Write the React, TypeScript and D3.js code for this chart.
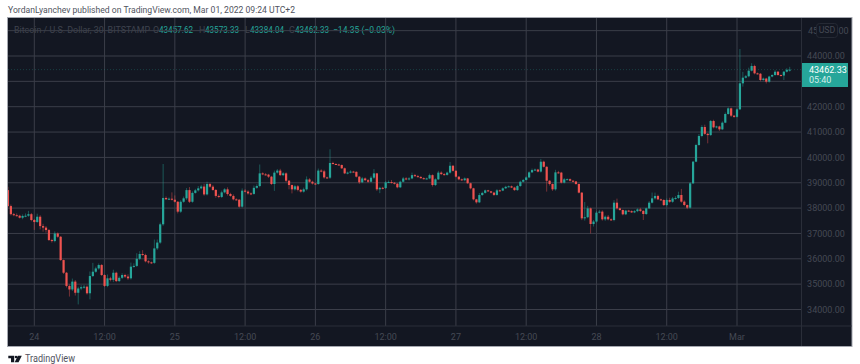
import React from "react";
import * as d3 from "d3";

const firstOpen = 38710;
const closes = [
  38080,37760,37720,37700,37620,37690,37700,37760,37530,37450,
  37660,37290,37230,37135,36740,36700,37000,36870,35950,35450,
  34930,34790,35100,34660,34830,34880,34900,34640,35320,35490,
  35620,35755,35360,34930,35230,35170,35450,35120,35250,35360,
  35300,35230,35690,35720,36000,36190,36150,35900,35860,35840,
  36410,36640,37360,38400,38350,38370,38330,38250,37860,38250,
  38385,38710,38250,38600,38700,38780,38850,38540,38950,38845,
  38715,38480,38440,38620,38740,38555,38480,38345,38330,38056,
  38688,38650,38580,38560,38800,38870,39370,39330,39320,39240,
  38950,39400,39480,39300,39370,39080,38910,38740,38860,38720,
  38650,38740,39130,39040,38970,38950,39480,39450,39210,39200,
  39780,39740,39720,39700,39570,39370,39400,39440,39430,39240,
  39016,39170,39100,39040,39200,39370,38740,38800,38790,39016,
  39030,39000,38960,38820,39040,39170,39130,39170,39300,39260,
  39230,39180,39150,39170,39300,38910,39135,39400,39340,39310,
  39400,39670,39470,39240,39135,39100,39170,38980,38780,38345,
  38227,38515,38600,38700,38660,38610,38520,38700,38690,38780,
  38840,38860,38810,38710,38870,39040,39110,39210,39410,39500,
  39520,39440,39830,39630,39080,38950,38740,39410,39400,39003,
  39135,39140,39080,39050,38950,38610,37596,37640,37990,37373,
  37470,37820,37860,37557,37660,37557,37530,38214,37990,37925,
  37754,37900,37880,37830,37880,37950,37890,37767,37990,38214,
  38385,38480,38345,38320,38120,38320,38250,38380,38400,38517,
  38254,38122,38017,38977,39831,40489,40844,41200,40930,40880,
  41435,41186,41220,41107,41370,41712,41935,41646,41600,41896,
  42922,43145,43200,43420,43605,43316,43300,43053,43110,42987,
  43190,43250,43380,43250,43230,43380,43457.62,43462.33,
];
const wickUp = [
  130,60,50,70,40,60,90,130,50,40,
  120,60,90,60,40,50,80,40,30,20,
  30,60,120,60,70,80,70,50,180,350,
  70,60,40,30,150,60,120,40,60,70,
  50,90,160,100,220,110,150,50,40,30,
  350,120,70,1340,60,50,250,170,30,60,
  70,80,120,60,60,90,70,110,90,40,
  60,40,60,70,50,80,50,60,40,30,
  90,60,50,40,90,70,350,40,50,30,
  30,80,60,70,50,40,30,20,60,50,
  30,70,120,50,40,20,80,50,60,30,
  540,50,30,30,20,30,40,50,30,20,
  20,60,40,50,70,170,20,40,40,50,
  60,80,30,30,40,60,50,50,100,50,
  50,30,30,30,60,30,40,70,50,40,
  40,150,30,30,20,30,40,20,20,20,
  20,80,50,30,20,20,30,50,30,40,
  40,30,30,30,50,40,40,40,40,60,
  40,30,110,40,20,20,20,100,60,30,
  50,30,30,20,20,20,20,600,100,30,
  60,60,70,50,50,70,40,100,160,30,
  20,30,30,30,40,40,60,30,30,60,
  230,130,50,30,30,60,90,60,70,130,
  240,50,20,50,30,50,80,70,90,30,
  40,50,30,30,50,60,40,30,20,40,
  1354,230,50,120,110,50,30,30,40,30,
  30,30,60,30,20,30,60,111,
];
const wickDown = [
  40,50,40,30,30,60,50,40,50,310,
  30,130,160,100,40,60,50,40,30,50,
  60,280,60,110,460,70,60,50,240,40,
  40,50,40,40,50,60,90,40,40,50,
  60,60,50,40,40,50,30,40,50,40,
  40,60,50,60,30,30,30,30,70,50,
  40,60,50,40,30,50,40,50,40,40,
  30,70,50,40,40,60,30,40,30,40,
  40,30,50,50,30,40,50,30,30,50,
  40,270,40,30,40,60,170,160,50,60,
  40,40,50,30,40,30,30,40,50,40,
  50,20,20,20,30,30,40,30,20,30,
  60,30,40,40,30,60,60,150,50,40,
  30,30,30,40,30,30,30,40,30,30,
  20,20,20,20,30,60,40,30,30,30,
  30,40,30,30,40,30,40,20,40,40,
  50,30,30,30,20,30,40,30,30,20,
  20,20,20,30,30,30,30,20,30,20,
  30,30,40,30,430,60,60,50,40,30,
  30,30,30,30,30,30,70,90,40,373,
  100,40,30,50,60,40,40,50,50,30,
  40,30,20,20,30,40,40,237,40,30,
  30,50,30,30,40,50,40,40,50,40,
  40,50,60,40,30,20,30,50,40,326,
  30,40,40,60,30,20,30,50,40,30,
  30,130,30,40,30,40,30,50,30,70,
  40,30,30,30,40,177,30,73,
];
const priceTicks = [34000,35000,36000,37000,38000,39000,40000,41000,42000,43000,44000,45000];
const priceLabels = [34000,35000,36000,37000,38000,39000,40000,41000,42000,44000];
const timeTicks: [number,string][] = [
  [9,"24"],[33,"12:00"],[57,"25"],[81,"12:00"],[105,"26"],[129,"12:00"],
  [153,"27"],[177,"12:00"],[201,"28"],[225,"12:00"],[249,"Mar"],
];
const headerText = "YordanLyanchev published on TradingView.com, Mar 01, 2022 09:24 UTC+2";
const lastPrice = 43462.33;
const countdown = "05:40";
const legendName = "Bitcoin / U.S. Dollar, 30, BITSTAMP";
const legendValues = [
  ["O","43457.62",153,159],["H","43573.33",199,205],["L","43384.04",245,250],["C","43462.33",289,295],
] as [string,string,number,number][];
const legendChange = "−14.35 (−0.03%)";

const UP = "#26a69a", DOWN = "#ef5350", BG = "#131722", GRID = "#3b3e49", DIM = "#3f434e", AXIS = "#454954";
const FONT = "Roboto, sans-serif";
const L = 8, R = 801.5, T = 18, B = 326, PR = 851.5, PB = 346;

const x = d3.scaleLinear().domain([9,249]).range([34.3,737]);
const y = d3.scaleLinear().domain([34000,44000]).range([309.5,56]);

export default function App() {
  const candles = closes.map((c,i)=>{
    const o = i===0 ? firstOpen : closes[i-1];
    return {i,o,c,h:Math.max(o,c)+wickUp[i],l:Math.min(o,c)-wickDown[i]};
  });
  return (
    <svg width={860} height={364} style={{position:"absolute",left:0,top:0,background:"#fff"}} fontFamily={FONT}>
      <defs>
        <clipPath id="plot"><rect x={L} y={T} width={R-L} height={B-T}/></clipPath>
      </defs>
      <text x={8} y={13} fontSize={9} fill="#50535e" textLength={287} lengthAdjust="spacingAndGlyphs">{headerText}</text>
      <rect x={L-0.5} y={T-0.5} width={PR-L+1} height={PB-T+1} fill={BG} stroke="#a5a8b0" strokeWidth={1}/>

      <text x={14} y={33.4} fontSize={8.8} fill={DIM} textLength={136} lengthAdjust="spacingAndGlyphs">{legendName}</text>
      {legendValues.map(([k,v,kx,vx])=>(
        <g key={k}>
          <text x={kx} y={33.4} fontSize={8.8} fill={DIM}>{k}</text>
          <text x={vx} y={33.4} fontSize={8.8} fill={UP} textLength={34} lengthAdjust="spacingAndGlyphs">{v}</text>
        </g>
      ))}
      <text x={333} y={33.4} fontSize={8.8} fill={UP} textLength={62} lengthAdjust="spacingAndGlyphs">{legendChange}</text>

      {priceTicks.map(p=>(
        <line key={p} x1={L} x2={R} y1={y(p)} y2={y(p)} stroke={GRID} strokeWidth={1}/>
      ))}
      {timeTicks.map(([i,t])=>(
        <line key={i} x1={x(i)} x2={x(i)} y1={T} y2={B} stroke={GRID} strokeWidth={1}/>
      ))}
      <line x1={L} x2={PR} y1={B} y2={B} stroke="#2a2e39"/>
      <line x1={R} x2={R} y1={T} y2={PB} stroke="#2a2e39"/>

      <line x1={L} x2={R} y1={y(lastPrice)} y2={y(lastPrice)} stroke={UP} strokeOpacity={0.28} strokeWidth={1} strokeDasharray="1 2"/>

      <g clipPath="url(#plot)">
        {candles.map(d=>{
          const col = d.c>=d.o?UP:DOWN;
          const cx = x(d.i);
          const top = y(Math.max(d.o,d.c)), bot = y(Math.min(d.o,d.c));
          return (
            <g key={d.i}>
              <line x1={cx} x2={cx} y1={y(d.h)} y2={y(d.l)} stroke={col} strokeOpacity={0.5} strokeWidth={0.9}/>
              <rect x={cx-1.1} width={2.2} y={top} height={Math.max(bot-top,1)} fill={col}/>
            </g>
          );
        })}
      </g>

      {priceLabels.map(p=>(
        <text key={p} x={826} y={y(p)+3.2} fontSize={9} textAnchor="middle" fill={AXIS}>{p.toFixed(2)}</text>
      ))}
      <text x={808} y={y(45000)+3.2} fontSize={9} fill={AXIS}>45</text>
      <text x={838.5} y={y(45000)+3.2} fontSize={9} fill={AXIS}>00</text>
      <rect x={816.5} y={23.5} width={21} height={14} rx={3} fill={BG} stroke="#252934"/>
      <text x={827} y={33.4} fontSize={8.8} textAnchor="middle" fill={AXIS}>USD</text>

      {timeTicks.map(([i,t])=>(
        <text key={i} x={x(i)} y={340} fontSize={9} textAnchor="middle" fill={AXIS}>{t}</text>
      ))}

      <rect x={802} y={63} width={46} height={24} fill={UP}/>
      <text x={809} y={73} fontSize={9} fill="#ffffff">{lastPrice.toFixed(2)}</text>
      <text x={809} y={83} fontSize={9} fill="#d5efec">{countdown}</text>

      <path d="M8.3 355.7H14.2V362.3H11V358.2H8.3Z" fill={BG}/>
      <circle cx={16} cy={357} r={1.3} fill={BG}/>
      <path d="M17.8 355.7H21.8L18.6 362.3H14.7Z" fill={BG}/>
      <text x={25} y={362} fontSize={10} fill="#50535e" textLength={50} lengthAdjust="spacingAndGlyphs">TradingView</text>
    </svg>
  );
}
